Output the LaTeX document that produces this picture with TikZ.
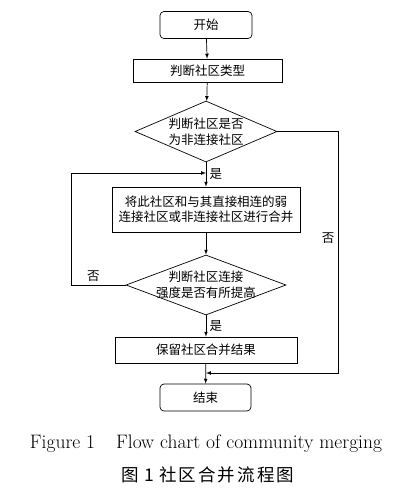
\documentclass[tikz,border=0pt]{standalone}
\usepackage{fontspec}
\newfontfamily\cjk{Noto Sans CJK SC}
\newfontfamily\cjkwide[LetterSpace=12]{Noto Sans CJK SC}
\usetikzlibrary{shapes.geometric}
\begin{document}
\begin{tikzpicture}[x=1pt,y=-1pt,line width=0.7pt,
    font=\cjk\fontsize{12.5}{15.5}\selectfont,
    term/.style={draw, rounded corners=4pt, minimum width=92pt, minimum height=27pt},
    proc/.style={draw, inner sep=0pt, align=center},
    decide/.style={draw, diamond, inner sep=0pt}]
\useasboundingbox (0,0) rectangle (415,491);
\node[term] (start) at (206,25) {开始};
\node[proc, minimum width=149pt, minimum height=23pt] (type) at (207.5,70.5) {判断社区类型};
\node[decide, minimum width=142pt, minimum height=61pt,
  label={[align=center]center:判断社区是否\\为非连接社区}] (check) at (206,131.5) {};
\node[proc, minimum width=188pt, minimum height=45pt] (merge) at (206,209.5) {将此社区和与其直接相连的弱\\连接社区或非连接社区进行合并};
\node[decide, minimum width=160pt, minimum height=60pt,
  label={[align=center]center:判断社区连接\\强度是否有所提高}] (grow) at (206,285) {};
\node[proc, minimum width=182pt, minimum height=26pt] (keep) at (206,350) {保留社区合并结果};
\node[term, minimum width=91pt] (end) at (205.5,397.5) {结束};
\coordinate (loopin) at (206,173);
\coordinate (joinin) at (206,373);
\draw[-latex] (start) -- (type);
\draw[-latex] (type) -- (check);
\draw[-latex] (check) -- node[right]{是} (merge);
\draw[-latex] (merge) -- (grow);
\draw[-latex] (grow) -- node[right]{是} (keep);
\draw[-latex] (keep) -- (end);
\draw[-latex] (grow.west) -- node[above, pos=0.6]{否} ++(-54,0) |- (loopin);
\draw[-latex] (check.east) -| node[pos=0.72, left]{否} (338,373) -- (joinin);
% caption
\node[font=\fontsize{19.5}{23}\selectfont] (capen) at (206,444) {Figure 1\hspace{21pt}Flow chart of community merging};
\node[font=\cjkwide\fontsize{17.5}{20}\selectfont] (capzh) at (208,475) {图\hspace{5pt}1\hspace{5pt}社区合并流程图};
\end{tikzpicture}
\end{document}
